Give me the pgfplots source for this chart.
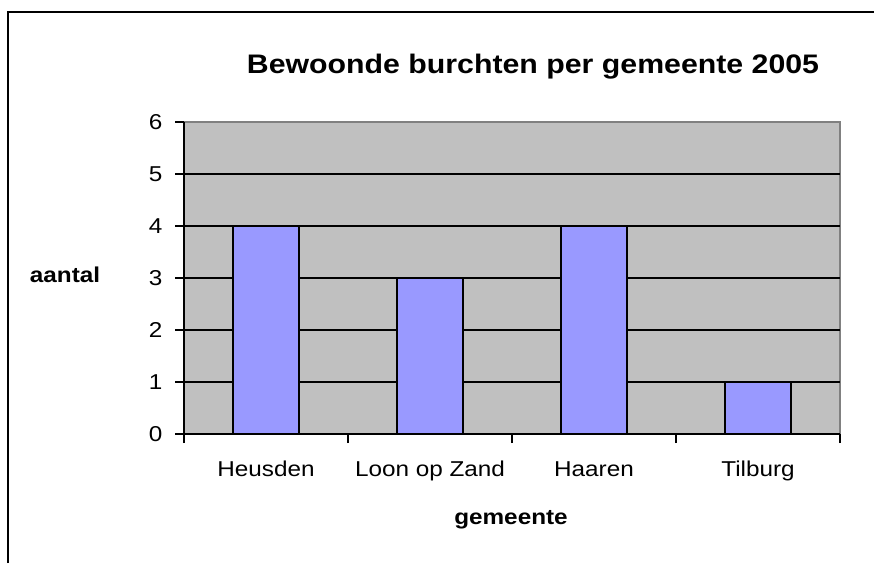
\documentclass[border=0pt]{standalone}
\usepackage{fontspec}
\setmainfont{Liberation Sans}[FakeStretch=1.13]
\usepackage{pgfplots}
\pgfplotsset{compat=1.18}
\definecolor{bggray}{HTML}{C0C0C0}
\definecolor{barblue}{HTML}{9999FF}
\begin{document}
\begin{tikzpicture}[x=1pt,y=1pt]
\useasboundingbox (0,0) rectangle (874,563);
\draw[line width=1.5pt] (8,0) -- (8,551) -- (874,551);
\begin{axis}[
 at={(184pt,129pt)}, anchor=south west,
 width=656pt, height=312pt, scale only axis,
 xmin=0, xmax=4, ymin=0, ymax=6,
 axis x line*=bottom, axis y line*=left,
 axis line style={black, line width=1.3pt},
 axis background/.style={fill=bggray, draw=gray, line width=1.2pt},
 xtick={0,1,2,3,4}, x tick label as interval,
 xticklabels={Heusden, Loon op Zand, Haaren, Tilburg},
 ytick={0,...,5},
 extra y ticks={6}, extra y tick style={grid=none},
 ymajorgrids, grid style={black, line width=1.3pt},
 tick align=outside, major tick length=9pt,
 tick style={black, line width=1.3pt},
 ticklabel style={font=\fontsize{21.5}{25}\selectfont},
 xticklabel style={text height=16pt, text depth=5pt, yshift=-14pt},
 yticklabel style={xshift=-9pt},
 /pgf/number format/assume math mode=true,
]
\addplot[ybar, bar width=66pt, fill=barblue, draw=black, line width=1.3pt] coordinates {(0.5,4) (1.5,3) (2.5,4) (3.5,1)};
\end{axis}
\node[font=\fontsize{26.8}{30}\selectfont\bfseries, anchor=base] at (533,489) {Bewoonde burchten per gemeente 2005};
\node[font=\fontsize{21.5}{25}\selectfont\bfseries, anchor=base] at (65,281) {aantal};
\node[font=\fontsize{21.5}{25}\selectfont\bfseries, anchor=base] at (511,39) {gemeente};
\end{tikzpicture}
\end{document}
